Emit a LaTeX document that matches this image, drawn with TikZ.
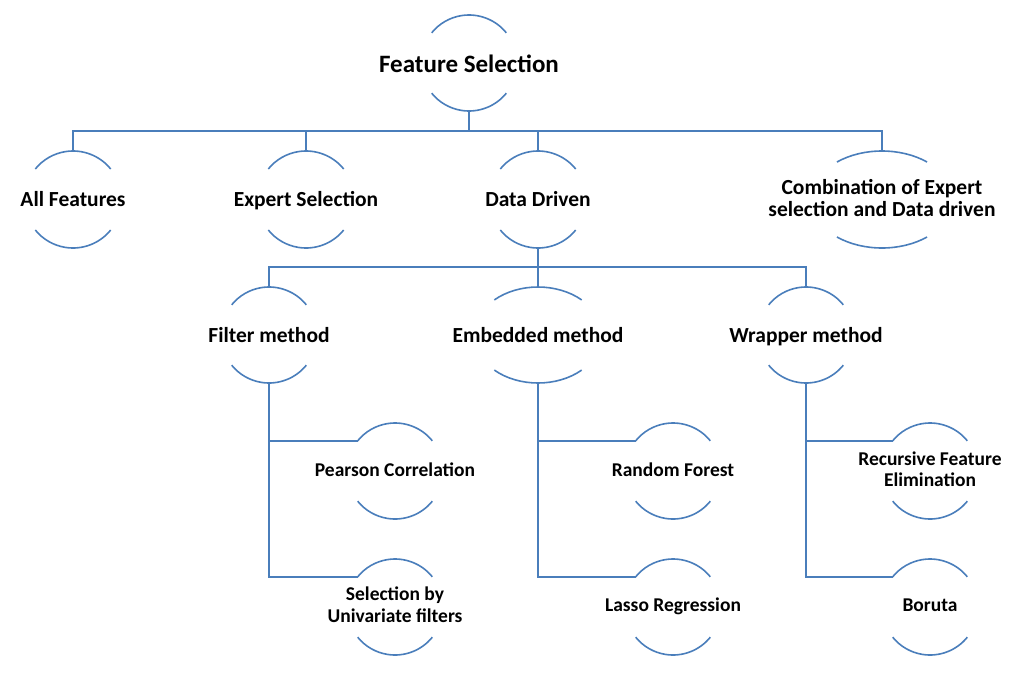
\documentclass[tikz,border=0pt]{standalone}
\usepackage{fontspec}
\setmainfont{Carlito}
\definecolor{lineblue}{RGB}{74,126,187}
% #1 name, #2 centre, #3 x radius, #4 y radius, #5 arc half-angle
\newcommand\nodearcs[5]{%
  \coordinate (#1-c) at #2;
  \draw[arcl] (#1-c) ++(#5:#3pt and #4pt) arc[start angle=#5, end angle=180-#5, x radius=#3pt, y radius=#4pt] coordinate (#1-tl);
  \draw[arcl] (#1-c) ++(-#5:#3pt and #4pt) arc[start angle=-#5, end angle=-180+#5, x radius=#3pt, y radius=#4pt];
  \path (#1-c) ++(0,#4) coordinate (#1-top);
  \path (#1-c) ++(0,-#4) coordinate (#1-bot);
}
\begin{document}
\begin{tikzpicture}[x=1pt,y=1pt,
  arcl/.style={draw=lineblue,line width=1.6pt},
  conn/.style={draw=lineblue,line width=1.6pt},
  lbl/.style={anchor=base,align=center,inner sep=0pt,font=\bfseries\fontsize{21.5}{22.5}\selectfont},
  lbltop/.style={lbl,font=\bfseries\fontsize{25}{30}\selectfont},
  lblsmall/.style={lbl,font=\bfseries\fontsize{19.5}{21.5}\selectfont}]
\useasboundingbox (0,0) rectangle (1025,-673);

% arcs
\nodearcs{fs}{(469,-63)}{48}{48}{39}
\nodearcs{af}{(73,-199.5)}{48.5}{48.5}{39}
\nodearcs{es}{(306,-199.5)}{48.5}{48.5}{39}
\nodearcs{dd}{(538,-199.5)}{48.5}{48.5}{39}
\nodearcs{co}{(882,-199.5)}{71}{48.5}{50.6}
\nodearcs{fm}{(269,-335)}{48}{48}{39}
\nodearcs{em}{(538,-335)}{64}{48}{47}
\nodearcs{wm}{(806,-335)}{48}{48}{39}
\nodearcs{pc}{(395,-471)}{48}{48}{39}
\nodearcs{su}{(395,-607)}{48}{48}{39}
\nodearcs{rf}{(673,-471)}{48}{48}{39}
\nodearcs{lr}{(673,-607)}{48}{48}{39}
\nodearcs{rfe}{(930,-471)}{48}{48}{39}
\nodearcs{bo}{(930,-607)}{48}{48}{39}

% labels (anchor base = last line's baseline)
\node[lbltop] (fs) at (469,-72) {Feature Selection};
\node[lbl] (af) at (73,-206) {All Features};
\node[lbl] (es) at (306,-206) {Expert Selection};
\node[lbl] (dd) at (538,-206) {Data Driven};
\node[lbl] (co) at (882,-216.5) {Combination of Expert\\selection and Data driven};
\node[lbl] (fm) at (269,-342) {Filter method};
\node[lbl] (em) at (538,-342) {Embedded method};
\node[lbl] (wm) at (806,-342) {Wrapper method};
\node[lblsmall] (pc) at (395,-476) {Pearson Correlation};
\node[lblsmall] (su) at (395,-622) {Selection by\\Univariate filters};
\node[lblsmall] (rf) at (673,-476) {Random Forest};
\node[lblsmall] (lr) at (673,-611.5) {Lasso Regression};
\node[lblsmall] (rfe) at (930,-486.5) {Recursive Feature\\Elimination};
\node[lblsmall] (bo) at (930,-611.5) {Boruta};

% connectors
\draw[conn] (fs-bot) -- ++(0,-20) -| (af-top);
\draw[conn] (fs-bot) -- ++(0,-20) -| (es-top);
\draw[conn] (fs-bot) -- ++(0,-20) -| (dd-top);
\draw[conn] (fs-bot) -- ++(0,-20) -| (co-top);
\draw[conn] (dd-bot) -- ++(0,-19) -| (fm-top);
\draw[conn] (dd-bot) -- ++(0,-19) -| (em-top);
\draw[conn] (dd-bot) -- ++(0,-19) -| (wm-top);
\draw[conn] (fm-bot) |- (pc-tl);
\draw[conn] (fm-bot) |- (su-tl);
\draw[conn] (em-bot) |- (rf-tl);
\draw[conn] (em-bot) |- (lr-tl);
\draw[conn] (wm-bot) |- (rfe-tl);
\draw[conn] (wm-bot) |- (bo-tl);
\end{tikzpicture}
\end{document}
